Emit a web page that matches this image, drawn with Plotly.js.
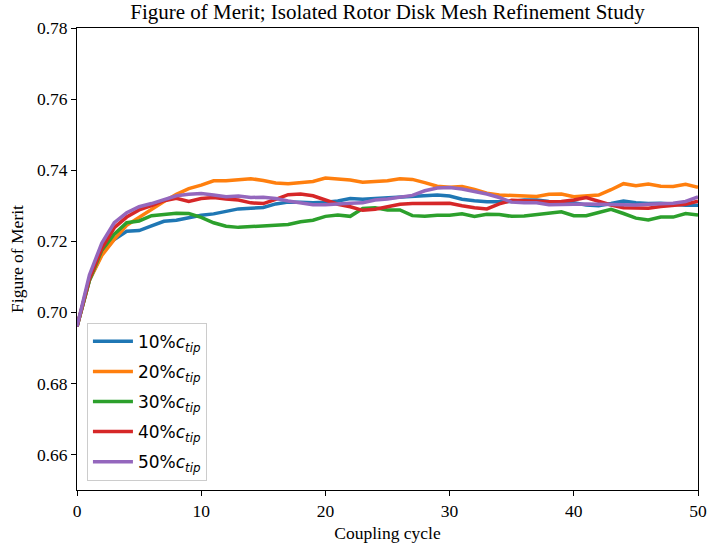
<!DOCTYPE html>
<html>
<head>
<meta charset="utf-8">
<script src="https://cdn.plot.ly/plotly-3.0.1.min.js"></script>
<style>html,body{margin:0;padding:0;background:#fff;}#chart{width:707px;height:546px;}</style>
</head>
<body>
<div id="chart"></div>
<script>
const cycles = Array.from({length: 51}, (_, i) => i);
const seriesNames = ["10%<i>c</i><sub><i>tip</i></sub>", "20%<i>c</i><sub><i>tip</i></sub>", "30%<i>c</i><sub><i>tip</i></sub>", "40%<i>c</i><sub><i>tip</i></sub>", "50%<i>c</i><sub><i>tip</i></sub>"];
const colors = ["#1f77b4", "#ff7f0e", "#2ca02c", "#d62728", "#9467bd"];

const fm10 = [0.696,0.709,0.7165,0.7205,0.7228,0.7230,0.7243,0.7256,0.7259,0.7266,
  0.7273,0.7277,0.7284,0.7291,0.7293,0.7295,0.7305,0.7310,0.7310,0.7308,
  0.7310,0.7313,0.7320,0.7318,0.7320,0.7322,0.7325,0.7325,0.7328,0.7330,
  0.7327,0.7318,0.7314,0.7311,0.7311,0.7312,0.7316,0.7316,0.7312,0.7310,
  0.7308,0.7302,0.7300,0.7306,0.7313,0.7308,0.7306,0.7307,0.7304,0.7301,0.7301];
const fm20 = [0.696,0.709,0.716,0.7205,0.7245,0.7268,0.7290,0.7312,0.7332,0.7348,
  0.7358,0.7370,0.7370,0.7374,0.7376,0.7371,0.7364,0.7362,0.7366,0.7368,
  0.7378,0.7376,0.7372,0.7366,0.7369,0.7370,0.7376,0.7374,0.7365,0.7355,
  0.7352,0.7354,0.7346,0.7335,0.7330,0.7328,0.7326,0.7326,0.7332,0.7333,
  0.7325,0.7328,0.7330,0.7345,0.7362,0.7356,0.7361,0.7355,0.7354,0.7360,0.7352];
const fm30 = [0.696,0.709,0.7175,0.722,0.7252,0.7257,0.7272,0.7275,0.7279,0.7278,
  0.7267,0.7252,0.7242,0.7239,0.7241,0.7242,0.7244,0.7247,0.7255,0.7259,
  0.7270,0.7274,0.7270,0.7292,0.7294,0.7288,0.7288,0.7272,0.7270,0.7273,
  0.7273,0.7277,0.7270,0.7276,0.7275,0.7270,0.7271,0.7275,0.7280,0.7283,
  0.7272,0.7272,0.7281,0.7290,0.7278,0.7265,0.7260,0.7268,0.7268,0.7278,0.7274];
const fm40 = [0.696,0.7095,0.718,0.7238,0.7268,0.7288,0.7300,0.7314,0.7321,0.7312,
  0.7320,0.7323,0.7319,0.7316,0.7308,0.7306,0.7318,0.7331,0.7333,0.7328,
  0.7316,0.7304,0.7297,0.7287,0.7290,0.7296,0.7304,0.7306,0.7306,0.7307,
  0.7307,0.7300,0.7294,0.7291,0.7305,0.7315,0.7313,0.7311,0.7311,0.7312,
  0.7316,0.7323,0.7312,0.7302,0.7294,0.7293,0.7293,0.7298,0.7300,0.7304,0.7313];
const fm50 = [0.696,0.7105,0.7195,0.7252,0.7280,0.7297,0.7306,0.7318,0.7328,0.7332,
  0.7334,0.7330,0.7325,0.7327,0.7323,0.7324,0.7320,0.7313,0.7307,0.7303,
  0.7303,0.7306,0.7307,0.7308,0.7316,0.7319,0.7325,0.7329,0.7342,0.7350,
  0.7351,0.7347,0.7340,0.7333,0.7323,0.7310,0.7308,0.7308,0.7303,0.7304,
  0.7305,0.7305,0.7304,0.7303,0.7302,0.7302,0.7304,0.7305,0.7307,0.7312,0.7325];

const xTicks = [0, 10, 20, 30, 40, 50];
const yTicks = [0.66, 0.68, 0.70, 0.72, 0.74, 0.76, 0.78];
const yTickText = ["0.66", "0.68", "0.70", "0.72", "0.74", "0.76", "0.78"];

const allSeries = [fm10, fm20, fm30, fm40, fm50];
const traces = allSeries.map((ys, k) => ({
  x: cycles, y: ys, type: "scatter", mode: "lines", name: seriesNames[k],
  legendgroup: "g" + k,
  line: {color: colors[k], width: 3.5}
}));

const serif = "'Liberation Serif', 'Times New Roman', serif";
const layout = {
  width: 707, height: 546,
  font: {family: serif, size: 17, color: "#000"},
  margin: {l: 77, r: 9, t: 28, b: 56},
  paper_bgcolor: "#fff", plot_bgcolor: "#fff",
  title: {text: "Figure of Merit; Isolated Rotor Disk Mesh Refinement Study", font: {family: serif, size: 21, color: "#000"},
    xref: "paper", x: 0.5, xanchor: "center", y: 0.978, yanchor: "middle"},
  xaxis: {range: [0, 50], tickvals: xTicks, ticktext: xTicks.map(String), showgrid: false, zeroline: false,
    showline: true, mirror: true, linecolor: "#000", linewidth: 1, ticks: "outside", ticklen: 5, tickcolor: "#000",
    tickfont: {family: serif, size: 17.5, color: "#000"},
    title: {text: "Coupling cycle", font: {family: serif, size: 17.5, color: "#000"}, standoff: 6}},
  yaxis: {range: [0.65, 0.78], tickvals: yTicks, ticktext: yTickText, showgrid: false, zeroline: false,
    showline: true, mirror: true, linecolor: "#000", linewidth: 1, ticks: "outside", ticklen: 5, tickcolor: "#000",
    tickfont: {family: serif, size: 17.5, color: "#000"},
    title: {text: "Figure of Merit", font: {family: serif, size: 17.5, color: "#000"}, standoff: 8}},
  legend: {x: 0.016, y: 0.02, xanchor: "left", yanchor: "bottom", bgcolor: "rgba(255,255,255,0.8)",
    bordercolor: "#cccccc", borderwidth: 1, tracegroupgap: 5, itemwidth: 40,
    font: {family: "'DejaVu Sans', sans-serif", size: 17, color: "#000"}},
  showlegend: true
};
Plotly.newPlot("chart", traces, layout, {staticPlot: true, displayModeBar: false});
</script>
</body>
</html>
